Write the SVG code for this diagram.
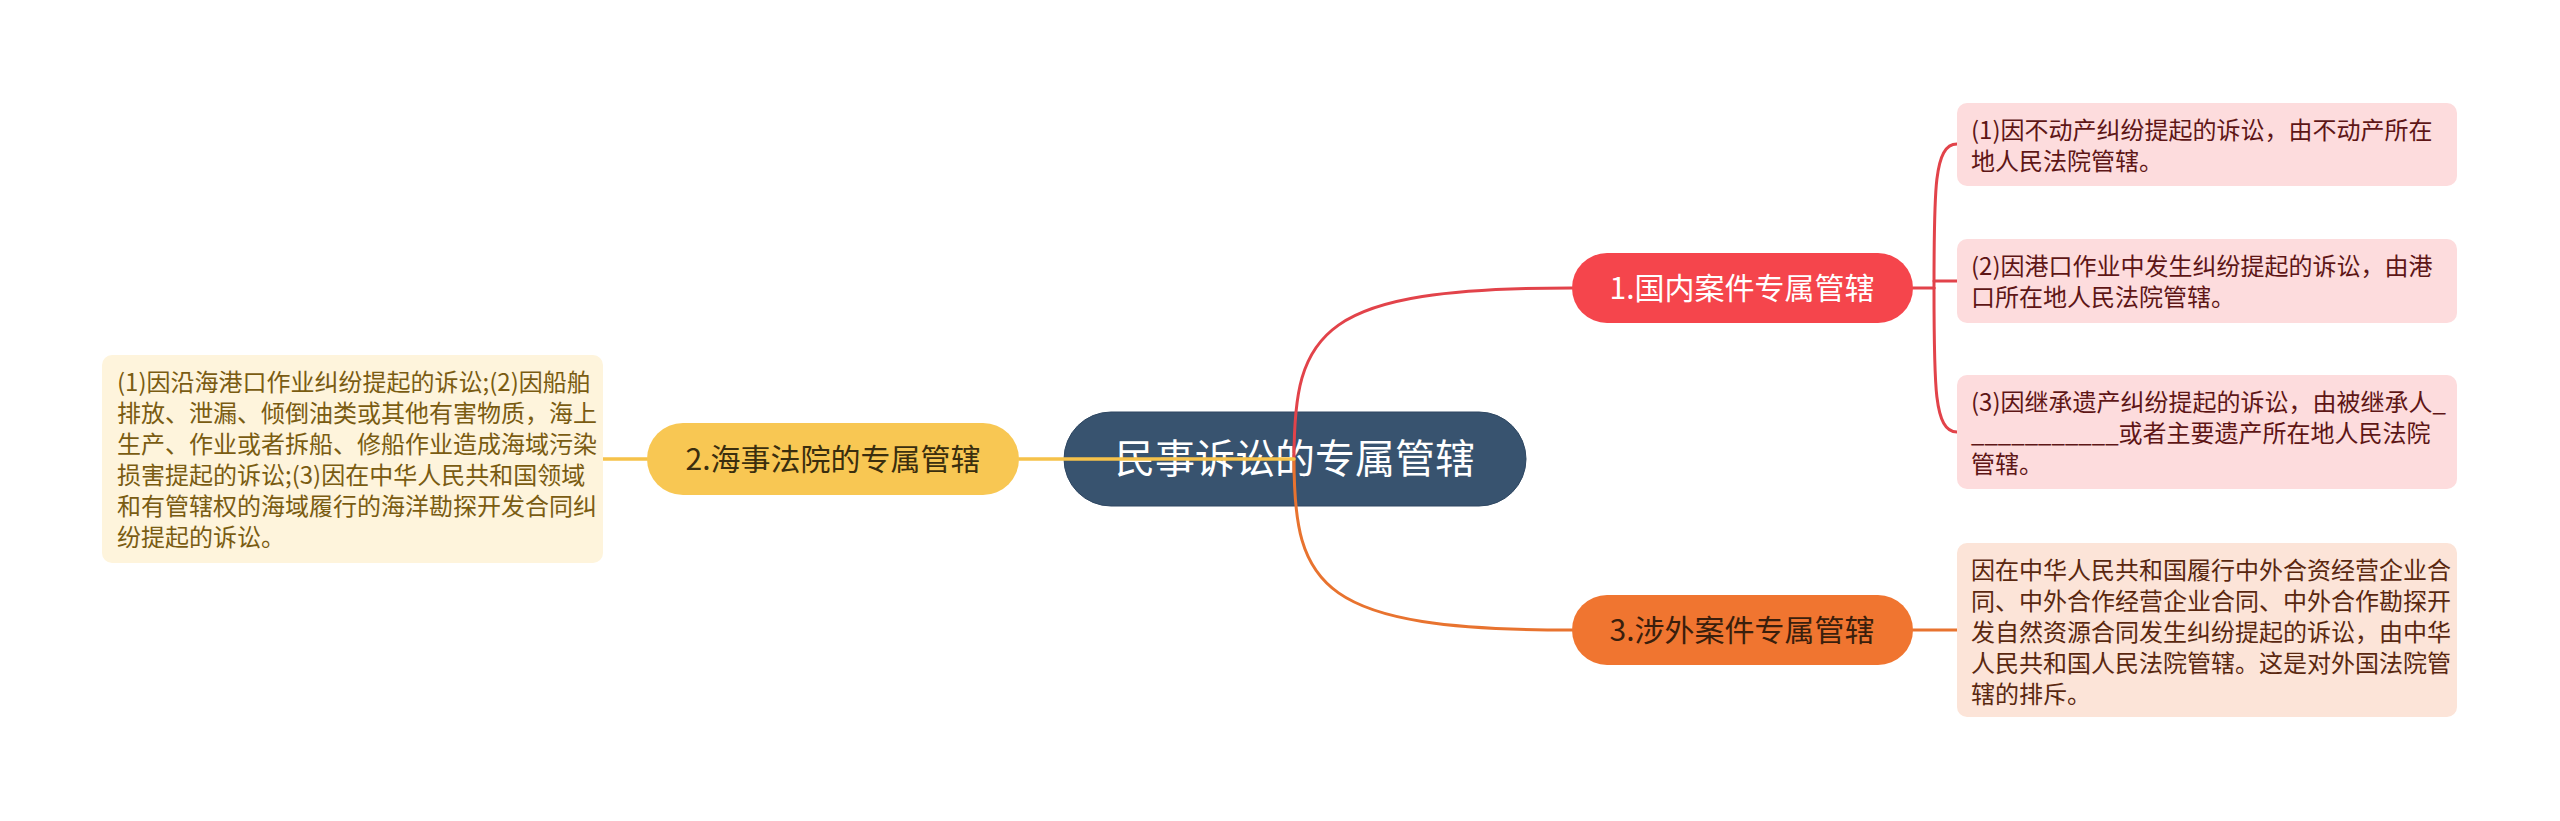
<svg xmlns="http://www.w3.org/2000/svg" width="2560" height="821" viewBox="0 0 2560 821">
<style>
text{font-family:"Noto Sans CJK SC","Noto Sans",sans-serif}
.c{fill:none;stroke-width:3;stroke-linecap:round}
.red{stroke:#E2434A}
.org{stroke:#E8732F}
.yel{stroke:#F6C24A;stroke-width:3.5}
.leaf{font-size:24px}
.lf1{fill:#FDDCDD}
.tx1{fill:#5E1616}
.lf3{fill:#FCE4D8}
.tx3{fill:#5A2810}
.lf2{fill:#FEF4DC}
.tx2{fill:#7A5C12}
.nt{font-size:30px;text-anchor:middle}
</style>
<rect width="2560" height="821" fill="#ffffff"/>
<g id="root">
<rect x="1064" y="412" width="462" height="94" rx="47" fill="#38536F" stroke="#2E4762" stroke-width="1"/>
<text x="1295" y="473" font-size="40" fill="#ffffff" text-anchor="middle">民事诉讼的专属管辖</text>
</g>
<g id="connectors">
<path class="c red" d="M1294,459 C1294,330 1320,288 1572,288"/>
<path class="c org" d="M1294,459 C1294,588 1320,630 1572,630"/>
<path class="c yel" d="M1294,459 L1019,459"/>
<path class="c yel" d="M647,459 L603,459"/>
<path class="c red" d="M1913,288 L1934,288"/>
<path class="c red" d="M1934,288 C1934,190 1934,144 1957,144"/>
<path class="c red" d="M1934,288 C1934,386 1934,432 1957,432"/>
<path class="c red" d="M1934,281 L1958,281"/>
<path class="c org" d="M1913,630 L1958,630"/>
</g>
<g id="n1">
<rect x="1572" y="253" width="341" height="70" rx="35" fill="#F5454C"/>
<text class="nt" x="1742" y="299" fill="#ffffff">1.国内案件专属管辖</text>
</g>
<g id="n2">
<rect x="647" y="423" width="372" height="72" rx="36" fill="#F8C753"/>
<text class="nt" x="833" y="470" fill="#3A2E0E">2.海事法院的专属管辖</text>
</g>
<g id="n3">
<rect x="1572" y="595" width="341" height="70" rx="35" fill="#F07530"/>
<text class="nt" x="1742" y="641" fill="#3A1E0C">3.涉外案件专属管辖</text>
</g>
<g id="leaf-1-1">
<rect class="lf1" x="1957" y="103" width="500" height="83" rx="10"/>
<text class="leaf tx1" x="1971" y="139">(1)因不动产纠纷提起的诉讼，由不动产所在</text>
<text class="leaf tx1" x="1971" y="170">地人民法院管辖。</text>
</g>
<g id="leaf-1-2">
<rect class="lf1" x="1957" y="239" width="500" height="84" rx="10"/>
<text class="leaf tx1" x="1971" y="275">(2)因港口作业中发生纠纷提起的诉讼，由港</text>
<text class="leaf tx1" x="1971" y="306">口所在地人民法院管辖。</text>
</g>
<g id="leaf-1-3">
<rect class="lf1" x="1957" y="375" width="500" height="114" rx="10"/>
<text class="leaf tx1" x="1971" y="411">(3)因继承遗产纠纷提起的诉讼，由被继承人_</text>
<text class="leaf tx1" x="1971" y="442">___________或者主要遗产所在地人民法院</text>
<text class="leaf tx1" x="1971" y="473">管辖。</text>
</g>
<g id="leaf-3-1">
<rect class="lf3" x="1957" y="543" width="500" height="174" rx="10"/>
<text class="leaf tx3" x="1971" y="579">因在中华人民共和国履行中外合资经营企业合</text>
<text class="leaf tx3" x="1971" y="610">同、中外合作经营企业合同、中外合作勘探开</text>
<text class="leaf tx3" x="1971" y="641">发自然资源合同发生纠纷提起的诉讼，由中华</text>
<text class="leaf tx3" x="1971" y="672">人民共和国人民法院管辖。这是对外国法院管</text>
<text class="leaf tx3" x="1971" y="703">辖的排斥。</text>
</g>
<g id="leaf-2-1">
<rect class="lf2" x="102" y="355" width="501" height="208" rx="10"/>
<text class="leaf tx2" x="117" y="391">(1)因沿海港口作业纠纷提起的诉讼;(2)因船舶</text>
<text class="leaf tx2" x="117" y="422">排放、泄漏、倾倒油类或其他有害物质，海上</text>
<text class="leaf tx2" x="117" y="453">生产、作业或者拆船、修船作业造成海域污染</text>
<text class="leaf tx2" x="117" y="484">损害提起的诉讼;(3)因在中华人民共和国领域</text>
<text class="leaf tx2" x="117" y="515">和有管辖权的海域履行的海洋勘探开发合同纠</text>
<text class="leaf tx2" x="117" y="546">纷提起的诉讼。</text>
</g>
</svg>
